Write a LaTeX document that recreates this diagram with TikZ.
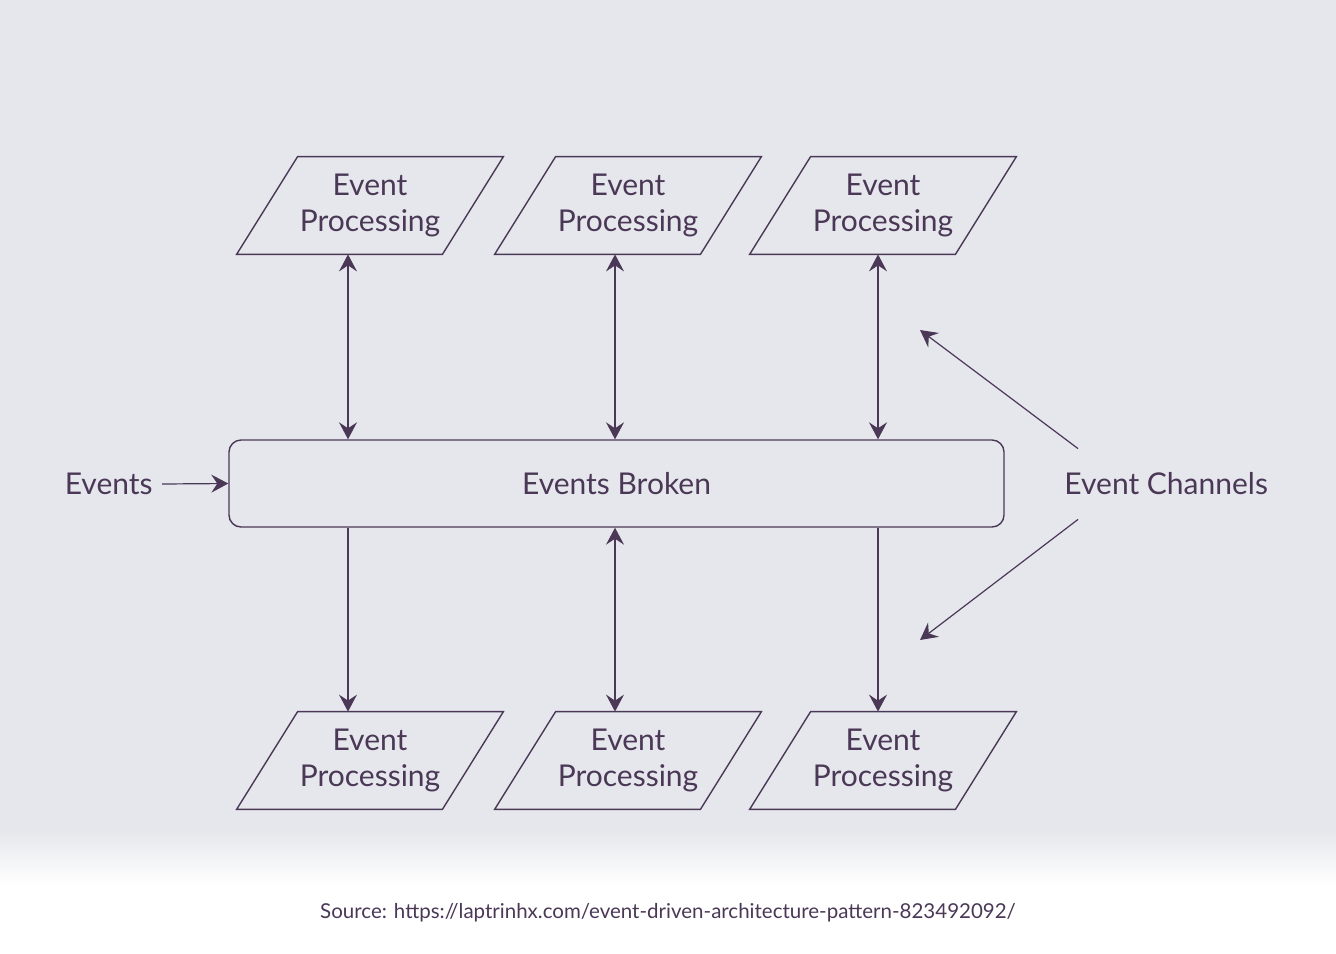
\documentclass[tikz,border=0pt]{standalone}
\usepackage{fontspec}
\setmainfont{Lato}
\usetikzlibrary{arrows.meta}
\definecolor{bgc}{RGB}{230,231,236}
\definecolor{ink}{RGB}{74,56,86}
\tikzset{
  procbox/.style={rectangle, minimum width=102.5pt, minimum height=48.5pt, inner sep=0pt,
    text=ink, align=center, font=\fontsize{15}{18}\selectfont},
  procline/.style={draw=ink, line width=0.7pt},
  brokerbox/.style={draw=ink, line width=0.7pt, rounded corners=6pt, minimum width=387.5pt,
    minimum height=43.5pt, text=ink, font=\fontsize{15}{18}\selectfont},
  lbl/.style={text=ink, font=\fontsize{15}{18}\selectfont},
  dblarr/.style={ink, line width=0.6pt, {Stealth[length=8.5pt,width=9pt,inset=3pt]}-{Stealth[length=8.5pt,width=9pt,inset=3pt]}},
  onearr/.style={ink, line width=0.6pt, -{Stealth[length=8.5pt,width=9pt,inset=3pt]}}
}
\begin{document}
\begin{tikzpicture}[x=0.5pt,y=-0.5pt]
\useasboundingbox (0,0) rectangle (1336,953);
% background with white fade at the bottom
\fill[bgc] (0,0) rectangle (1336,830);
\shade[top color=bgc, bottom color=white] (0,830) rectangle (1336,885);
\fill[white] (0,885) rectangle (1336,953);
% broker and processors
\node[brokerbox] (brk) at (616.5,483.5) {Events Broken};
\node[procbox] (pt1) at (370,205.5) {Event\\Processing};
\node[procbox] (pt2) at (628,205.5) {Event\\Processing};
\node[procbox] (pt3) at (883,205.5) {Event\\Processing};
\node[procbox] (pb1) at (370,760.5) {Event\\Processing};
\node[procbox] (pb2) at (628,760.5) {Event\\Processing};
\node[procbox] (pb3) at (883,760.5) {Event\\Processing};
\foreach \n in {pt1,pt2,pt3,pb1,pb2,pb3}
  \draw[procline] ([xshift=-15.25pt]\n.south west) -- ([xshift=-15.25pt]\n.south east)
    -- ([xshift=15.25pt]\n.north east) -- ([xshift=15.25pt]\n.north west) -- cycle;
\node[lbl, anchor=east, inner sep=0pt] (evts) at (153,484) {Events};
\node[lbl, anchor=west, inner xsep=0pt, minimum height=35pt] (chan) at (1064,484) {Event Channels};
\coordinate (chup) at (920,330);
\coordinate (chdn) at (920,640);
% connectors
\draw[dblarr] (348,0 |- pt1.south) -- (348,0 |- brk.north);
\draw[dblarr] (615,0 |- pt2.south) -- (615,0 |- brk.north);
\draw[dblarr] (878,0 |- pt3.south) -- (878,0 |- brk.north);
\draw[onearr] (348,0 |- brk.south) -- (348,0 |- pb1.north);
\draw[dblarr] (615,0 |- brk.south) -- (615,0 |- pb2.north);
\draw[onearr] (878,0 |- brk.south) -- (878,0 |- pb3.north);
\draw[onearr] ([xshift=4.5pt]evts.east) -- (brk.west);
\draw[onearr] ([xshift=7pt]chan.north west) -- (chup);
\draw[onearr] ([xshift=7pt]chan.south west) -- (chdn);
\node[text=ink, font=\fontsize{10.25}{12}\selectfont] (src) at (668,913) {Source: https://laptrinhx.com/event-driven-architecture-pattern-823492092/};
\end{tikzpicture}
\end{document}
